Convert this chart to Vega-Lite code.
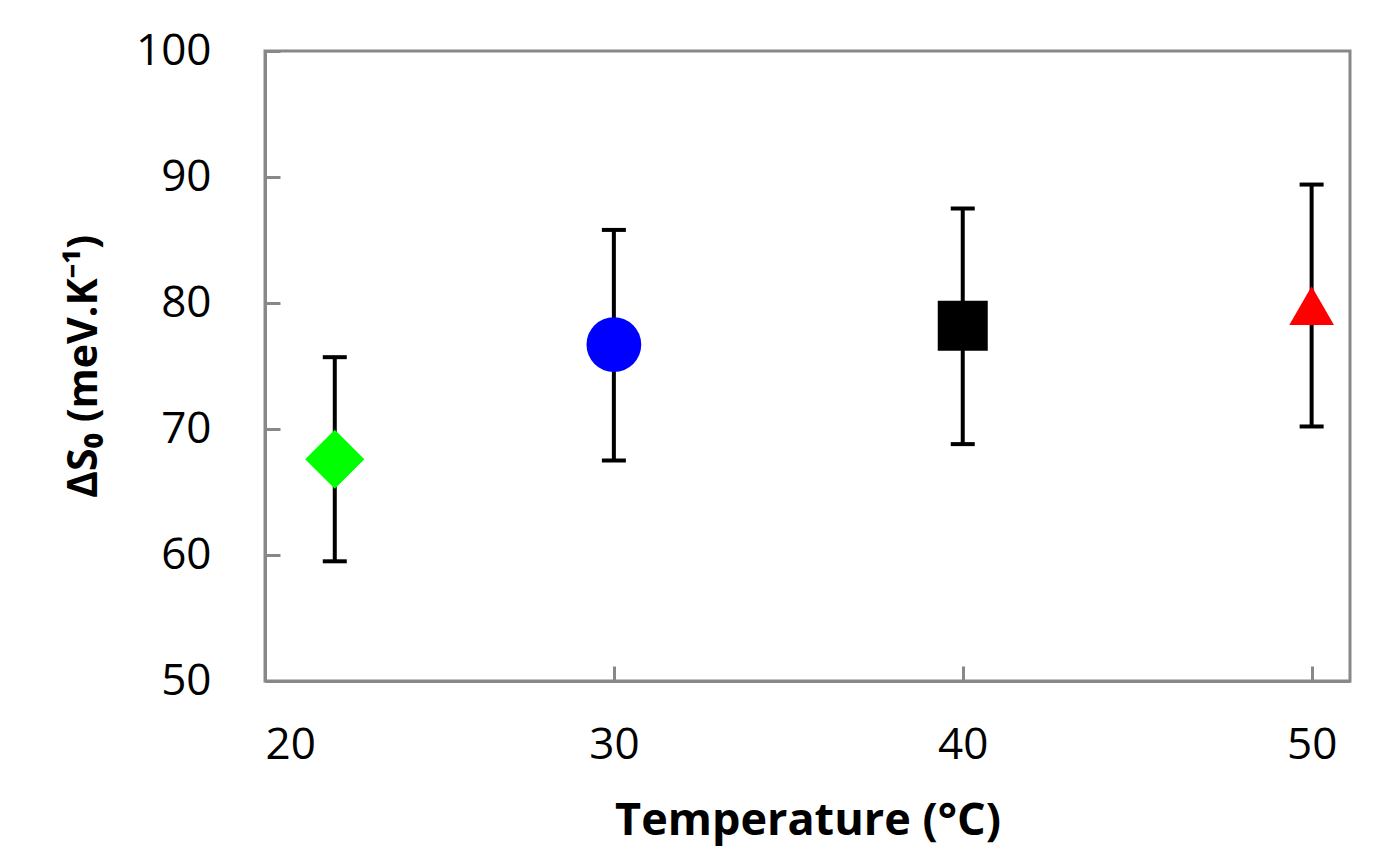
{
  "$schema": "https://vega.github.io/schema/vega-lite/v6.json",
  "autosize": "none",
  "width": 1085,
  "height": 630,
  "padding": {"left": 265, "top": 51, "right": 26, "bottom": 176},
  "background": "white",
  "config": {
    "view": {"stroke": "#888888", "strokeWidth": 3},
    "font": "Open Sans"
  },
  "data": {
    "values": [
      {"series": "22", "T": 22, "S0": 67.6, "lo": 59.5, "hi": 75.7},
      {"series": "30", "T": 30, "S0": 76.7, "lo": 67.5, "hi": 85.8},
      {"series": "40", "T": 40, "S0": 78.2, "lo": 68.8, "hi": 87.5},
      {"series": "50", "T": 50, "S0": 79.8, "lo": 70.2, "hi": 89.4}
    ]
  },
  "encoding": {
    "x": {
      "field": "T", "type": "quantitative",
      "scale": {"domain": [20, 51.1], "nice": false, "zero": false},
      "axis": {
        "values": [20, 30, 40, 50], "title": "Temperature (°C)", "grid": false,
        "domainColor": "#888888", "domainWidth": 3,
        "tickColor": "#888888", "tickWidth": 3, "tickSize": -15,
        "labelFontSize": 44, "labelColor": "black", "labelPadding": 57, "labelFont": "Open Sans",
        "titleFontSize": 45, "titleFontWeight": "bold", "titleColor": "black", "titlePadding": 31, "titleFont": "Open Sans"
      }
    }
  },
  "layer": [
    {
      "mark": {"type": "rule", "color": "black", "strokeWidth": 4},
      "encoding": {
        "y": {
          "field": "lo", "type": "quantitative",
          "scale": {"domain": [50, 100], "nice": false, "zero": false},
          "axis": {
            "values": [50, 60, 70, 80, 90, 100], "title": "ΔS₀ (meV.K⁻¹)", "grid": false,
            "domainColor": "#888888", "domainWidth": 3,
            "tickColor": "#888888", "tickWidth": 3, "tickSize": -15,
            "labelFontSize": 44, "labelColor": "black", "labelPadding": 69, "labelFont": "Open Sans",
            "titleFontSize": 41, "titleFontWeight": "bold", "titleColor": "black", "titlePadding": 30, "titleFont": "Open Sans"
          }
        },
        "y2": {"field": "hi"}
      }
    },
    {
      "mark": {"type": "tick", "color": "black", "orient": "horizontal", "size": 24, "thickness": 4, "opacity": 1},
      "encoding": {"y": {"field": "lo", "type": "quantitative"}}
    },
    {
      "mark": {"type": "tick", "color": "black", "orient": "horizontal", "size": 24, "thickness": 4, "opacity": 1},
      "encoding": {"y": {"field": "hi", "type": "quantitative"}}
    },
    {
      "mark": {"type": "point", "filled": true, "opacity": 1, "strokeWidth": 0},
      "encoding": {
        "y": {"field": "S0", "type": "quantitative"},
        "shape": {"field": "series", "type": "nominal", "legend": null,
          "scale": {"domain": ["22", "30", "40", "50"], "range": ["diamond", "circle", "square", "triangle-up"]}},
        "color": {"field": "series", "type": "nominal", "legend": null,
          "scale": {"domain": ["22", "30", "40", "50"], "range": ["#00FF00", "#0000FF", "#000000", "#FF0000"]}},
        "size": {"field": "series", "type": "nominal", "legend": null,
          "scale": {"domain": ["22", "30", "40", "50"], "range": [3500, 2000, 1936, 2600]}}
      }
    }
  ]
}
